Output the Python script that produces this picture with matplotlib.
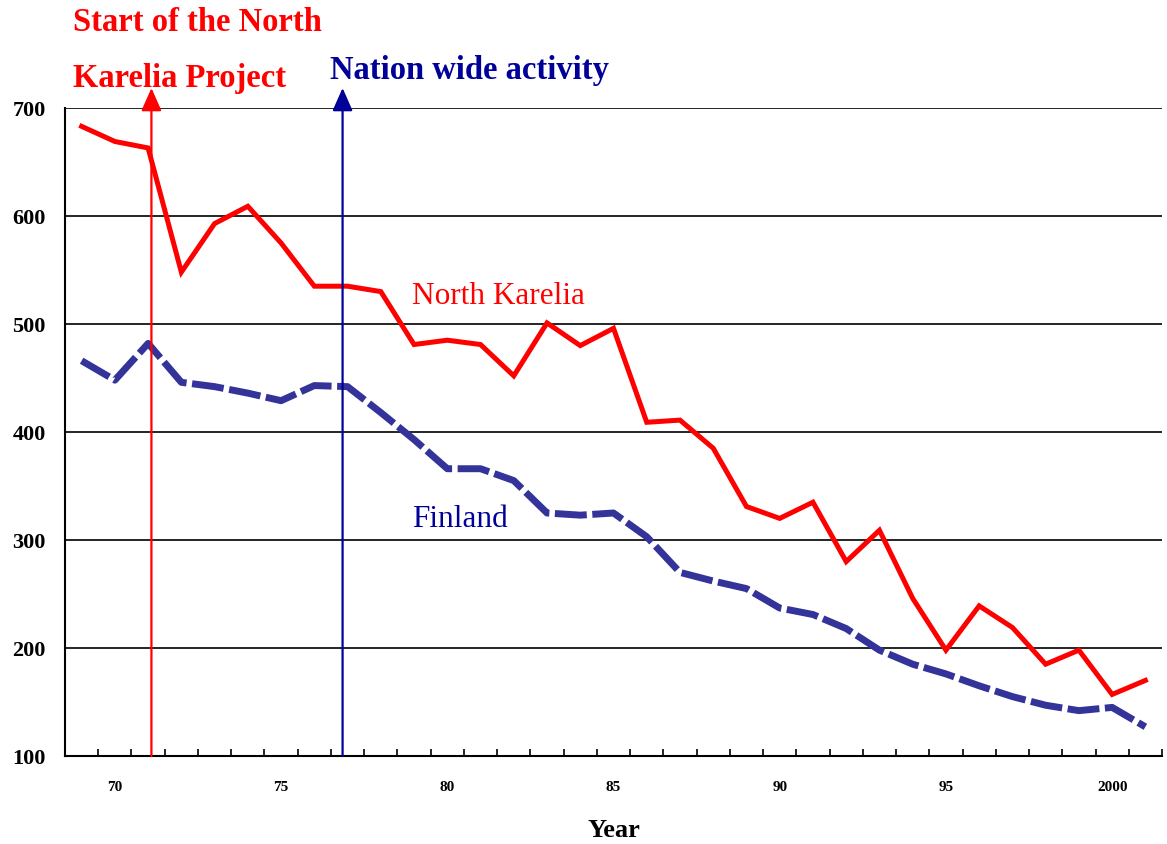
import matplotlib
matplotlib.use("Agg")
import matplotlib.pyplot as plt
from matplotlib.ticker import FixedLocator, MultipleLocator

plt.rcParams['font.family'] = ['Liberation Serif', 'DejaVu Serif']

years = list(range(1969, 2002))
north_karelia = [683, 669, 663, 548, 593, 609, 575, 535, 535, 530,
                 481, 485, 481, 452, 501, 480, 496, 409, 411, 385,
                 331, 320, 335, 280, 309, 246, 198, 239, 219, 185,
                 198, 157, 170]
finland = [466, 448, 482, 446, 442, 436, 429, 443, 442, 418,
           393, 366, 366, 355, 325, 323, 325, 303, 270, 262,
           255, 237, 231, 218, 198, 185, 176, 165, 155, 147,
           142, 145, 127]
tick_years = [1970, 1975, 1980, 1985, 1990, 1995, 2000]
tick_labels = ['70', '75', '80', '85', '90', '95', '2000']
start_nk = 1971.1
start_nation = 1976.85

RED = '#FF0000'
BLUE_LINE = '#333399'
BLUE_TXT = '#000099'

fig = plt.figure(figsize=(11.67, 8.44), dpi=100)
ax = fig.add_axes([65/1167, 1-756/844, (1162-65)/1167, (756-108)/844])

ax.set_xlim(1968.5, 2001.5)
ax.set_ylim(100, 700)

# grid lines
for v in range(200, 701, 100):
    ax.axhline(v, color='black', lw=1.2, zorder=1)

ax.plot(years, north_karelia, color=RED, lw=3.6, solid_joinstyle='miter', zorder=3)
ax.plot(years, finland, color=BLUE_LINE, lw=5, dashes=(4.6, 0.8), zorder=3)

# vertical event lines with arrows
for x, c in [(start_nk, RED), (start_nation, BLUE_TXT)]:
    ax.annotate('', xy=(x, 718.5), xytext=(x, 100),
                arrowprops=dict(arrowstyle='-|>,head_length=1.4,head_width=0.62',
                                color=c, lw=1.6, shrinkA=0, shrinkB=0),
                annotation_clip=False, zorder=4)

for s in ['top', 'right']:
    ax.spines[s].set_visible(False)
ax.spines['left'].set_linewidth(1.5)
ax.spines['bottom'].set_linewidth(1.5)

ax.yaxis.set_major_locator(MultipleLocator(100))
ax.tick_params(axis='y', length=0, pad=14)
for lbl in ax.get_yticklabels():
    lbl.set_fontsize(16)
    lbl.set_fontweight('bold')

ax.xaxis.set_major_locator(FixedLocator(tick_years))
ax.set_xticklabels(tick_labels, fontsize=11, fontweight='bold')
ax.xaxis.set_minor_locator(FixedLocator([y + 0.5 for y in range(1968, 2002)]))
ax.tick_params(axis='x', which='major', length=0, pad=18)
ax.tick_params(axis='x', which='minor', length=5, width=1.2, direction='in')

ax.set_xlabel('Year', fontsize=19, fontweight='bold', labelpad=18)

ax.text(1978.95, 518.5, 'North Karelia', color=RED, fontsize=22.5, va='baseline', ha='left')
ax.text(1978.95, 312, 'Finland', color=BLUE_TXT, fontsize=22.5, va='baseline', ha='left')

fig.text(73/1167, 1-31/844, 'Start of the North', color=RED, fontsize=23.5,
         fontweight='bold', va='baseline', ha='left')
fig.text(73/1167, 1-87/844, 'Karelia Project', color=RED, fontsize=23.5,
         fontweight='bold', va='baseline', ha='left')
fig.text(330/1167, 1-79/844, 'Nation wide activity', color=BLUE_TXT, fontsize=23.5,
         fontweight='bold', va='baseline', ha='left')

fig.savefig('out.png', dpi=100)
